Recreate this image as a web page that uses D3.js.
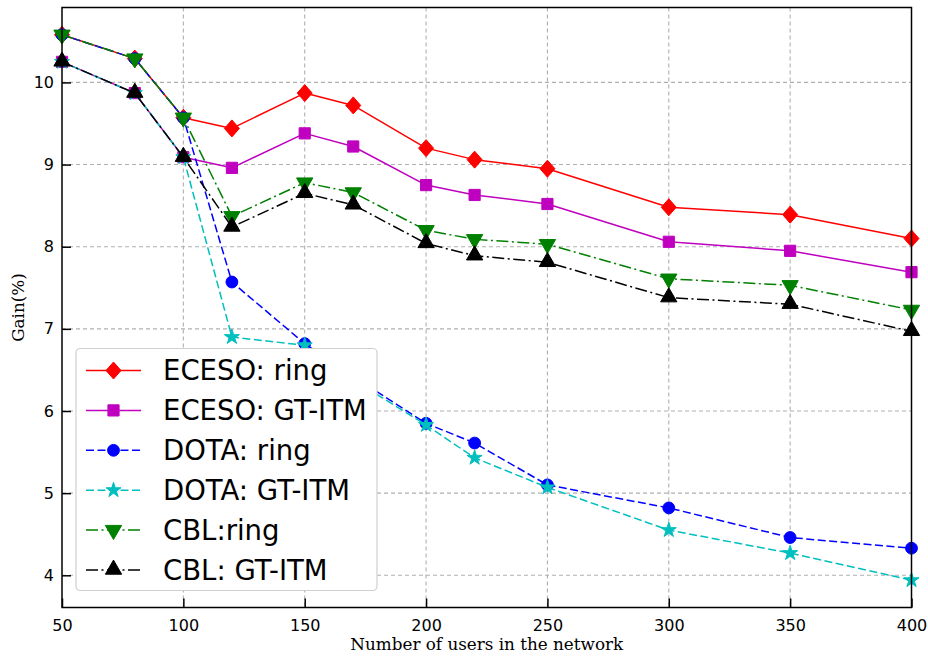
<!DOCTYPE html>
<html>
<head>
<meta charset="utf-8">
<script src="https://cdn.jsdelivr.net/npm/d3@7"></script>
<style>
  html, body { margin: 0; padding: 0; background: #fff; }
  svg { display: block; }
</style>
</head>
<body>
<svg id="chart" width="928" height="657"></svg>
<script>
// Number of users in the network
const users = [50, 80, 100, 120, 150, 170, 200, 220, 250, 300, 350, 400];

// Gain (%) per scheme and topology
const ecesoRing  = [10.58, 10.29, 9.57, 9.44, 9.87, 9.72, 9.20, 9.06, 8.95, 8.48, 8.39, 8.10];
const ecesoGtitm = [10.25, 9.87, 9.09, 8.96, 9.38, 9.22, 8.75, 8.63, 8.52, 8.06, 7.95, 7.69];
const dotaRing   = [10.58, 10.29, 9.57, 7.57, 6.82, 6.42, 5.85, 5.61, 5.10, 4.82, 4.46, 4.33];
const dotaGtitm  = [10.25, 9.87, 9.09, 6.90, 6.80, 6.38, 5.83, 5.43, 5.07, 4.55, 4.27, 3.94];
const cblRing    = [10.58, 10.29, 9.57, 8.37, 8.78, 8.66, 8.20, 8.09, 8.03, 7.61, 7.53, 7.23];
const cblGtitm   = [10.25, 9.87, 9.09, 8.24, 8.65, 8.51, 8.04, 7.89, 7.81, 7.38, 7.30, 6.97];

const seriesNames = ["ECESO: ring", "ECESO: GT-ITM", "DOTA: ring", "DOTA: GT-ITM", "CBL:ring", "CBL: GT-ITM"];

const xTicks = [50, 100, 150, 200, 250, 300, 350, 400];
const yTicks = [4, 5, 6, 7, 8, 9, 10];

const xLabel = "Number of users in the network";
const yLabel = "Gain(%)";

// Styling for each series
const styles = [
  { color: "#ff0000", dash: null,              marker: "diamond" },
  { color: "#bf00bf", dash: null,              marker: "square" },
  { color: "#0000ff", dash: "8,3.5",           marker: "circle" },
  { color: "#00bfbf", dash: "8,3.5",           marker: "star" },
  { color: "#008000", dash: "12,3.5,2,3.5",    marker: "triangleDown" },
  { color: "#000000", dash: "12,3.5,2,3.5",    marker: "triangleUp" }
];

const values = [ecesoRing, ecesoGtitm, dotaRing, dotaGtitm, cblRing, cblGtitm];
const series = seriesNames.map((name, i) => ({
  name,
  ...styles[i],
  points: users.map((u, j) => ({ x: u, y: values[i][j] }))
}));

const svg = d3.select("#chart");
const W = 928, H = 657;
const margin = { left: 62, right: W - 911.5, top: 7.5, bottom: H - 607.5 };
const iw = W - margin.left - margin.right;
const ih = H - margin.top - margin.bottom;

// y limits padded by 5% of the data range
const allY = values.flat();
const yMin = d3.min(allY), yMax = d3.max(allY);
const pad = (yMax - yMin) * 0.05;

const x = d3.scaleLinear().domain([50, 400]).range([0, iw]);
const y = d3.scaleLinear().domain([yMin - pad, yMax + pad]).range([ih, 0]);

const g = svg.append("g").attr("transform", `translate(${margin.left},${margin.top})`);

// Grid
const grid = g.append("g").attr("class", "grid");
grid.selectAll("line.vx").data(xTicks.filter(t => t > 50 && t < 400)).enter().append("line")
  .attr("x1", d => x(d)).attr("x2", d => x(d)).attr("y1", 0).attr("y2", ih)
  .attr("stroke", "#b0b0b0").attr("stroke-width", 1.1).attr("stroke-dasharray", "4,3");
grid.selectAll("line.hy").data(yTicks).enter().append("line")
  .attr("x1", 0).attr("x2", iw).attr("y1", d => y(d)).attr("y2", d => y(d))
  .attr("stroke", "#b0b0b0").attr("stroke-width", 1.1).attr("stroke-dasharray", "4,3");

// Marker shapes
function symbolPath(type) {
  switch (type) {
    case "diamond": { const w = 7.5, h = 8.5; return `M0,${-h}L${w},0L0,${h}L${-w},0Z`; }
    case "square": return d3.symbol().type(d3.symbolSquare).size(125)();
    case "circle": return d3.symbol().type(d3.symbolCircle).size(110)();
    case "star": return d3.symbol().type(d3.symbolStar).size(70)();
    default: return d3.symbol().type(d3.symbolTriangle).size(115)();
  }
}
function symbolTransform(type, px, py) {
  if (type === "triangleDown") return `translate(${px},${py}) rotate(180)`;
  if (type === "triangleUp") return `translate(${px},${py - 0.5})`;
  return `translate(${px},${py})`;
}

const line = d3.line().x(d => x(d.x)).y(d => y(d.y));

const plot = g.append("g");
series.forEach(s => {
  const sg = plot.append("g");
  sg.append("path").datum(s.points)
    .attr("d", line).attr("fill", "none").attr("stroke", s.color)
    .attr("stroke-width", 1.5).attr("stroke-dasharray", s.dash)
    .attr("stroke-linejoin", "round");
  sg.selectAll("path.m").data(s.points).enter().append("path")
    .attr("d", symbolPath(s.marker))
    .attr("transform", d => symbolTransform(s.marker, x(d.x), y(d.y)))
    .attr("fill", s.color).attr("stroke", s.color).attr("stroke-width", 1);
});

// Axes with inward ticks
const xAxis = d3.axisBottom(x).tickValues(xTicks).tickSizeInner(-9).tickSizeOuter(0).tickPadding(12);
const yAxis = d3.axisLeft(y).tickValues(yTicks).tickSizeInner(-9).tickSizeOuter(0).tickPadding(8);

const xg = g.append("g").attr("transform", `translate(0,${ih})`).call(xAxis);
const yg = g.append("g").call(yAxis);
[xg, yg].forEach(ax => {
  ax.select(".domain").remove();
  ax.selectAll(".tick line").attr("stroke", "#000").attr("stroke-width", 1.5);
  ax.selectAll(".tick text").attr("font-family", "DejaVu Sans").attr("font-size", 16).attr("fill", "#000");
});
xg.selectAll(".tick text").attr("dy", "0.71em");

// Frame
g.append("rect").attr("x", 0).attr("y", 0).attr("width", iw).attr("height", ih)
  .attr("fill", "none").attr("stroke", "#000").attr("stroke-width", 1.5);

// Axis titles
svg.append("text")
  .attr("x", margin.left + iw / 2).attr("y", 650)
  .attr("text-anchor", "middle")
  .attr("font-family", "DejaVu Serif").attr("font-size", 16.8)
  .text(xLabel);
svg.append("text")
  .attr("transform", `translate(24,${margin.top + ih / 2}) rotate(-90)`)
  .attr("text-anchor", "middle")
  .attr("font-family", "DejaVu Serif").attr("font-size", 16.8)
  .text(yLabel);

// Legend
const lg = svg.append("g").attr("transform", "translate(76,348.5)");
lg.append("rect").attr("x", 0).attr("y", 0).attr("width", 301).attr("height", 242)
  .attr("rx", 4).attr("ry", 4)
  .attr("fill", "#fff").attr("stroke", "#d0d0d0").attr("stroke-width", 1.2);
series.forEach((s, i) => {
  const cy = 22 + i * 39.9;
  const row = lg.append("g").attr("transform", `translate(0,${cy})`);
  row.append("line").attr("x1", 10).attr("x2", 65).attr("y1", 0).attr("y2", 0)
    .attr("stroke", s.color).attr("stroke-width", 1.5).attr("stroke-dasharray", s.dash);
  row.append("path").attr("d", symbolPath(s.marker))
    .attr("transform", symbolTransform(s.marker, 37.5, 0))
    .attr("fill", s.color).attr("stroke", s.color).attr("stroke-width", 1);
  row.append("text").attr("x", 87).attr("y", 0).attr("dy", "0.36em")
    .attr("font-family", "DejaVu Sans").attr("font-size", 27.5).attr("fill", "#000")
    .text(s.name);
});
</script>
</body>
</html>
